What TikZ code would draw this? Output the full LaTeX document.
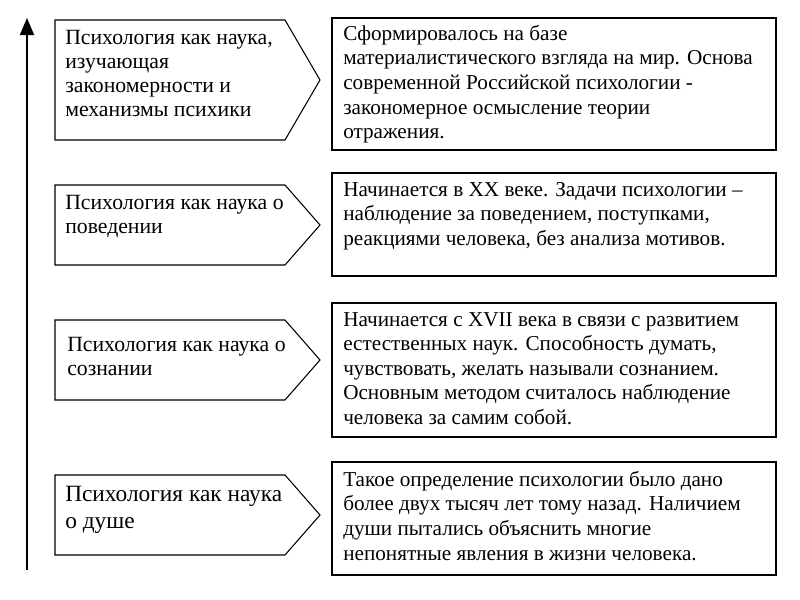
\documentclass[tikz,border=0pt]{standalone}
\usepackage{fontspec}
\setmainfont{Liberation Serif}
\usetikzlibrary{arrows}
\begin{document}
\begin{tikzpicture}[x=0.75pt,y=-0.75pt,line join=miter,>=triangle 45,
  lbl/.style={anchor=north west,align=left,inner sep=0pt,font=\fontsize{16.3}{18}\selectfont},
  txt/.style={anchor=north west,align=left,inner sep=0pt,font=\fontsize{15.9}{18.4}\selectfont},
  box/.style={draw,line width=0.8pt}]
\useasboundingbox (0,0) rectangle (800,600);
% time axis
\draw[->,line width=2pt] (27,570) -- (27,18);
% left pointers
\foreach \t/\b in {20/140,185/265,320/400,475/555}
  \draw[box] (55,\t) -- (285,\t) -- (320,{(\t+\b)/2}) -- (285,\b) -- (55,\b) -- cycle;
\node[lbl] (p1) at (65,30) {Психология как наука,\\изучающая\\закономерности и\\механизмы психики};
\node[lbl] (p2) at (65,195) {Психология как наука о\\поведении};
\node[lbl] (p3) at (67,337) {Психология как наука о\\сознании};
\node[lbl,font=\fontsize{17.5}{20}\selectfont] (p4) at (65,486) {Психология как наука\\о душе};
% right boxes
\draw[box] (332,18) rectangle (776,150);
\draw[box] (332,173) rectangle (776,276);
\draw[box] (332,303) rectangle (776,437);
\draw[box] (332,462) rectangle (776,575);
\node[txt] (d1) at (343,25) {Сформировалось на базе\\материалистического взгляда на мир. Основа\\современной Российской психологии -\\закономерное осмысление теории\\отражения.};
\node[txt] (d2) at (343,182) {Начинается в XX веке. Задачи психологии –\\наблюдение за поведением, поступками,\\реакциями человека, без анализа мотивов.};
\node[txt] (d3) at (343,312) {Начинается с XVII века в связи с развитием\\естественных наук. Способность думать,\\чувствовать, желать называли сознанием.\\Основным методом считалось наблюдение\\человека за самим собой.};
\node[txt] (d4) at (343,471) {Такое определение психологии было дано\\более двух тысяч лет тому назад. Наличием\\души пытались объяснить многие\\непонятные явления в жизни человека.};
\end{tikzpicture}
\end{document}
